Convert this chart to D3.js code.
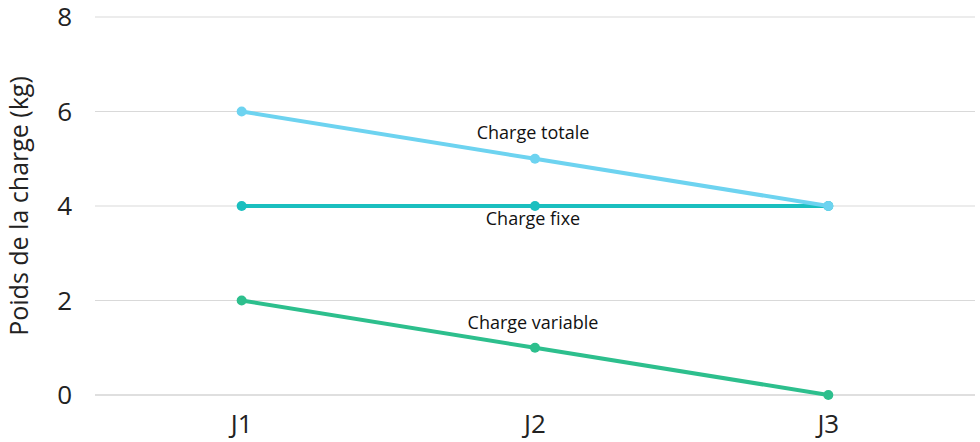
<!DOCTYPE html><html><head><meta charset="utf-8"><script src="https://cdn.jsdelivr.net/npm/d3@7"></script>
<style>body{margin:0;background:#fff}text{font-family:"Open Sans",sans-serif}</style></head><body><svg width="980" height="442"></svg>
<script>
const categories=["J1","J2","J3"];
const yTicks=[0,2,4,6,8];
const variable=[2,1,0];
const fixe=[4,4,4];
const totale=[6,5,4];
const seriesNames=["Charge variable","Charge fixe","Charge totale"];
const labelPos=[1,1,1];
const svg=d3.select("svg");
const x=d3.scalePoint().domain(categories).range([95,975]).padding(0.5);
const y=d3.scaleLinear().domain([0,8]).range([395,17]);
yTicks.forEach(t=>{
 svg.append("line").attr("x1",95).attr("x2",975).attr("y1",y(t)).attr("y2",y(t)).attr("stroke",t===0?"#bfbfbf":"#d9d9d9").attr("stroke-width",1);
 svg.append("text").attr("x",72).attr("y",y(t)).attr("dy","0.35em").attr("text-anchor","end").attr("font-size",26).attr("fill","#222").text(t);
});
categories.forEach(c=>svg.append("text").attr("x",x(c)).attr("y",433).attr("text-anchor","middle").attr("font-size",26).attr("fill","#222").text(c));
svg.append("text").attr("transform","translate(28,206) rotate(-90)").attr("text-anchor","middle").attr("font-size",25).attr("fill","#222").text("Poids de la charge (kg)");
const series=[{v:variable,c:"#2dbf8d",dy:-25},{v:fixe,c:"#1abfbf",dy:13},{v:totale,c:"#6dd3f0",dy:-26}];
series.forEach((s,i)=>{
 const line=d3.line().x((d,j)=>x(categories[j])).y(d=>y(d));
 svg.append("path").attr("d",line(s.v)).attr("fill","none").attr("stroke",s.c).attr("stroke-width",4);
 s.v.forEach((d,j)=>svg.append("circle").attr("cx",x(categories[j])).attr("cy",y(d)).attr("r",5).attr("fill",s.c));
 const k=labelPos[i];
 svg.append("text").attr("x",x(categories[k])-2).attr("y",y(s.v[k])+s.dy).attr("dy","0.35em").attr("text-anchor","middle").attr("font-size",18).attr("fill","#111").text(seriesNames[i]);
});
</script></body></html>
